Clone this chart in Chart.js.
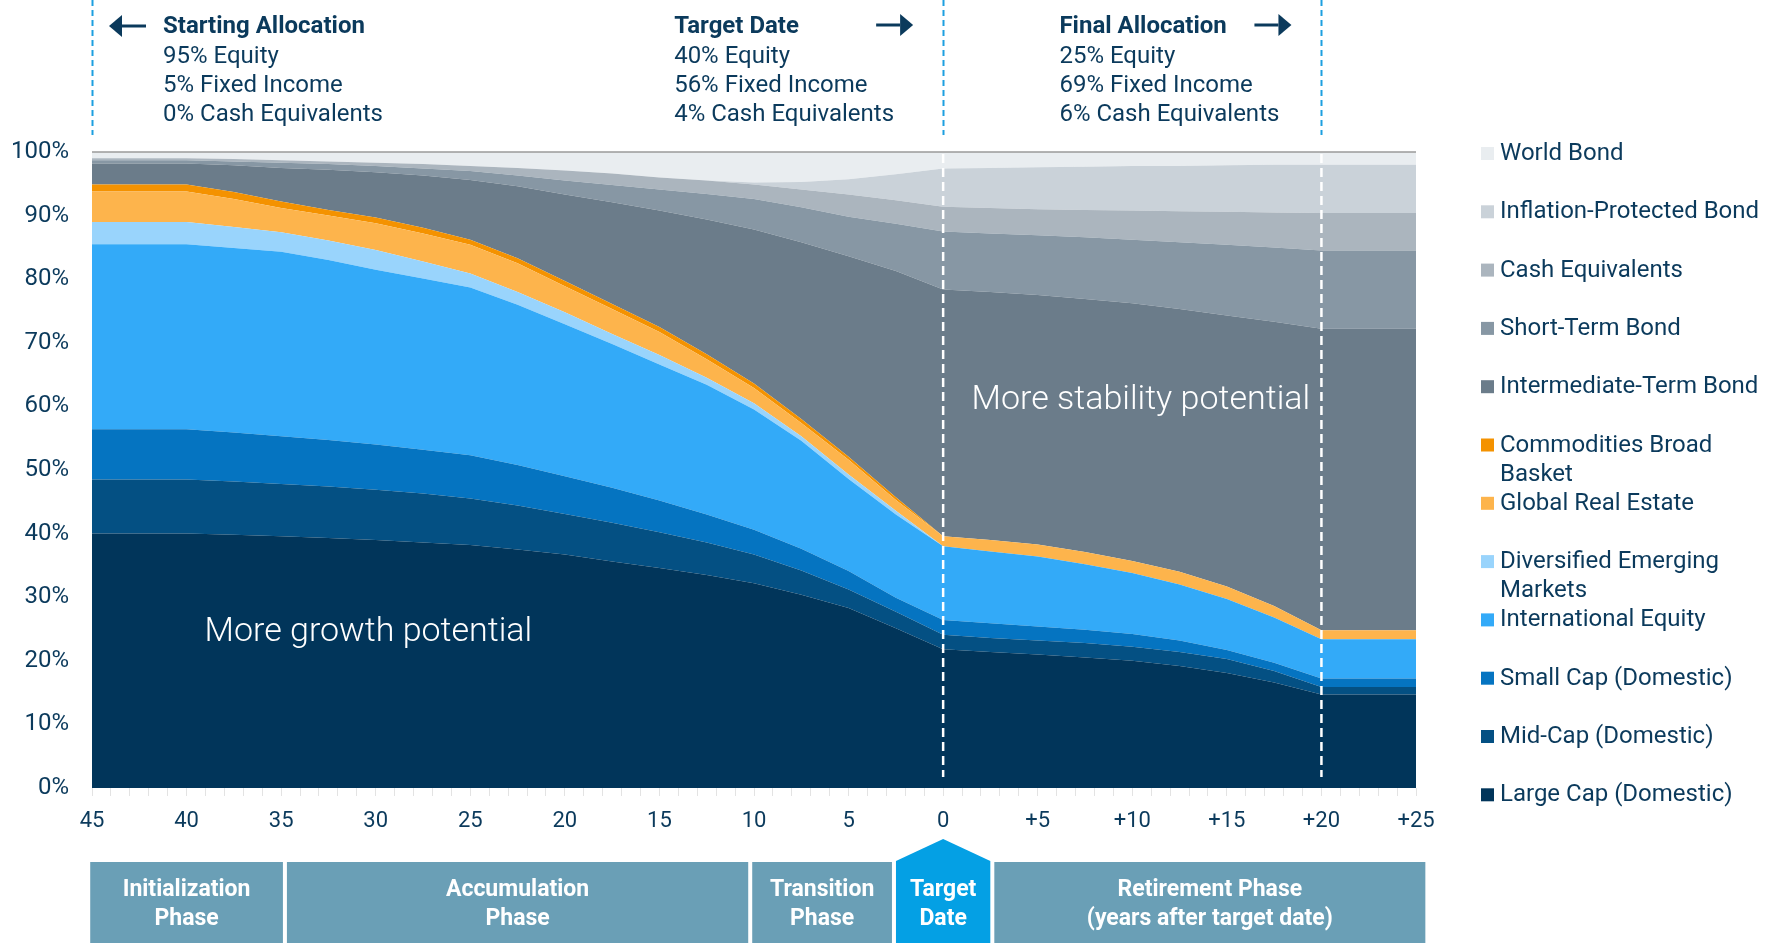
<!DOCTYPE html>
<html>
<head>
<meta charset="utf-8">
<script src="https://cdn.jsdelivr.net/npm/chart.js@4.4.1/dist/chart.umd.min.js"></script>
<style>
  html, body { margin: 0; padding: 0; background: #fff; }
  #wrap { position: relative; width: 1765px; height: 947px; }
</style>
</head>
<body>
<div id="wrap"><canvas id="glidePath"></canvas></div>
<script>
// years relative to the target date
const years = [-45, -40, -37.5, -35, -32.5, -30, -27.5, -25, -22.5, -20, -17.5, -15, -12.5, -10,
  -7.5, -5, -2.5, 0, 2.5, 5, 7.5, 10, 12.5, 15, 17.5, 20, 25];

// allocation of each fund, % of portfolio (stacked bottom -> top)
const largeCap     = [40.0, 40.0, 39.8, 39.6, 39.3, 39.0, 38.6, 38.2, 37.5, 36.7, 35.6, 34.6, 33.5, 32.2, 30.4, 28.3, 25.1, 21.8, 21.4, 21.0, 20.5, 20.0, 19.2, 18.1, 16.6, 14.7, 14.7];
const midCap       = [8.5, 8.5, 8.4, 8.2, 8.1, 7.9, 7.7, 7.3, 6.9, 6.4, 6.1, 5.6, 5.1, 4.5, 3.8, 2.9, 2.6, 2.3, 2.2, 2.2, 2.3, 2.2, 2.2, 2.2, 1.8, 1.2, 1.2];
const smallCap     = [7.9, 7.9, 7.7, 7.5, 7.3, 7.1, 6.9, 6.8, 6.4, 5.9, 5.5, 5.0, 4.4, 3.9, 3.4, 2.9, 2.2, 2.3, 2.3, 2.2, 2.1, 2.0, 1.8, 1.4, 1.3, 1.3, 1.3];
const intlEquity   = [29.1, 29.1, 29.0, 29.0, 28.3, 27.5, 26.9, 26.4, 25.2, 23.9, 22.6, 21.4, 20.4, 18.9, 17.0, 14.5, 13.1, 11.6, 11.3, 11.0, 10.3, 9.6, 8.8, 8.0, 7.1, 6.2, 6.2];
const emerging     = [3.5, 3.5, 3.3, 3.1, 3.1, 3.1, 2.7, 2.2, 2.0, 1.9, 1.6, 1.5, 1.1, 1.0, 0.7, 0.7, 0.6, 0, 0, 0, 0, 0, 0, 0, 0, 0, 0];
const realEstate   = [4.8, 4.8, 4.4, 3.8, 3.9, 4.2, 4.4, 4.5, 4.5, 4.1, 3.9, 3.6, 2.9, 2.4, 2.1, 2.3, 1.7, 1.6, 1.8, 1.9, 1.9, 1.9, 2.0, 2.0, 1.8, 1.4, 1.4];
const commodities  = [1.1, 1.1, 1.1, 1.0, 0.9, 0.9, 0.9, 0.8, 0.8, 0.8, 0.8, 0.8, 0.8, 0.7, 0.6, 0.5, 0.4, 0, 0, 0, 0, 0, 0, 0, 0, 0, 0];
const intermediate = [3.3, 3.3, 4.2, 5.3, 6.3, 7.1, 8.2, 9.4, 11.3, 13.6, 16.0, 18.3, 21.2, 24.2, 27.8, 31.5, 35.6, 38.8, 39.0, 39.2, 39.8, 40.5, 41.3, 42.6, 44.7, 47.4, 47.4];
const shortTerm    = [0.5, 0.5, 0.6, 0.8, 0.9, 1.0, 1.1, 1.4, 1.7, 2.2, 2.7, 3.3, 4.0, 4.8, 5.5, 6.2, 7.4, 9.1, 9.2, 9.4, 9.7, 10.0, 10.5, 11.1, 11.7, 12.3, 12.3];
const cashEquiv    = [0.3, 0.3, 0.4, 0.4, 0.4, 0.5, 0.7, 0.8, 1.2, 1.6, 1.8, 1.9, 2.1, 2.3, 2.8, 3.5, 3.7, 3.9, 4.0, 4.1, 4.3, 4.6, 4.9, 5.2, 5.5, 5.9, 5.9];
const inflationProt = [0, 0, 0, 0, 0, 0, 0, 0, 0, 0, 0, 0, 0, 0.3, 1.2, 2.4, 4.1, 6.0, 6.3, 6.6, 6.8, 7.0, 7.1, 7.3, 7.5, 7.6, 7.6];
const worldBond    = [1.0, 1.0, 1.1, 1.3, 1.5, 1.7, 1.9, 2.2, 2.5, 2.9, 3.4, 4.0, 4.5, 4.8, 4.7, 4.3, 3.5, 2.6, 2.5, 2.4, 2.3, 2.2, 2.2, 2.1, 2.0, 2.0, 2.0];

const seriesNames = [
  'Large Cap (Domestic)', 'Mid-Cap (Domestic)', 'Small Cap (Domestic)', 'International Equity',
  'Diversified Emerging\nMarkets', 'Global Real Estate', 'Commodities Broad\nBasket',
  'Intermediate-Term Bond', 'Short-Term Bond', 'Cash Equivalents',
  'Inflation-Protected Bond', 'World Bond'
];
const seriesValues = [largeCap, midCap, smallCap, intlEquity, emerging, realEstate, commodities,
  intermediate, shortTerm, cashEquiv, inflationProt, worldBond];
const seriesColors = ['#01355a', '#045083', '#0574c1', '#33aaf8', '#99d4fc', '#fdb44c', '#f49200',
  '#6b7c8a', '#8797a4', '#abb5be', '#cad2d9', '#e9edf0'];

const yTicks = [0, 10, 20, 30, 40, 50, 60, 70, 80, 90, 100];

// top call-outs
const callouts = [
  { at: -45, dx: 71, title: 'Starting Allocation', arrow: 'left', lines: ['95% Equity', '5% Fixed Income', '0% Cash Equivalents'] },
  { at: 0, dx: -269, title: 'Target Date', arrow: 'right', lines: ['40% Equity', '56% Fixed Income', '4% Cash Equivalents'] },
  { at: 20, dx: -262, title: 'Final Allocation', arrow: 'right', lines: ['25% Equity', '69% Fixed Income', '6% Cash Equivalents'] }
];

// phase strip under the axis (year ranges)
const phases = [
  { from: -45.2, to: -34.8, text: ['Initialization', 'Phase'] },
  { from: -34.8, to: -10.2, text: ['Accumulation', 'Phase'] },
  { from: -10.2, to: -2.6, text: ['Transition', 'Phase'] },
  { from: -2.6, to: 2.6, text: ['Target', 'Date'], highlight: true },
  { from: 2.6, to: 25.6, text: ['Retirement Phase', '(years after target date)'] }
];

const NAVY = '#0b3a5c';
const FONT = 'Roboto, "Open Sans", sans-serif';

Chart.defaults.font.family = FONT;
Chart.defaults.font.size = 22;
Chart.defaults.color = NAVY;

const datasets = seriesValues.map((vals, i) => ({
  label: seriesNames[i].replace('\n', ' '),
  legendText: seriesNames[i].split('\n'),
  data: years.map((yr, j) => ({ x: yr, y: vals[j] })),
  backgroundColor: seriesColors[i],
  borderColor: seriesColors[i],
  borderWidth: 0,
  pointRadius: 0,
  tension: 0,
  fill: i === 0 ? 'origin' : '-1'
}));

function arrow(ctx, x1, x2, y, dir) {
  ctx.save();
  ctx.fillStyle = NAVY;
  ctx.strokeStyle = NAVY;
  ctx.lineWidth = 3;
  const tip = dir === 'left' ? x1 : x2;
  const tail = dir === 'left' ? x2 : x1;
  const back = dir === 'left' ? tip + 13 : tip - 13;
  ctx.beginPath();
  ctx.moveTo(tail, y);
  ctx.lineTo(back, y);
  ctx.stroke();
  ctx.beginPath();
  ctx.moveTo(tip, y);
  ctx.lineTo(back, y - 11);
  ctx.lineTo(back, y + 11);
  ctx.closePath();
  ctx.fill();
  ctx.restore();
}

const extras = {
  id: 'extras',
  afterDatasetsDraw(chart) {
    const { ctx, chartArea: a, scales: { x, y } } = chart;
    ctx.save();
    // top frame line
    ctx.strokeStyle = '#9a9a9a';
    ctx.lineWidth = 1.5;
    ctx.beginPath();
    ctx.moveTo(a.left, y.getPixelForValue(100));
    ctx.lineTo(a.right, y.getPixelForValue(100));
    ctx.stroke();
    // white dashed markers
    ctx.strokeStyle = '#ffffff';
    ctx.lineWidth = 2.5;
    ctx.setLineDash([9, 5]);
    [0, 20].forEach(v => {
      const px = x.getPixelForValue(v);
      ctx.beginPath();
      ctx.moveTo(px, a.top + 2);
      ctx.lineTo(px, a.bottom - 11);
      ctx.stroke();
    });
    ctx.setLineDash([]);
    // area captions
    ctx.fillStyle = '#ffffff';
    ctx.font = '300 34px ' + FONT;
    ctx.textBaseline = 'middle';
    ctx.fillText('More growth potential', x.getPixelForValue(-39.05), y.getPixelForValue(24.5));
    ctx.fillText('More stability potential', x.getPixelForValue(1.5), y.getPixelForValue(61.0));
    ctx.restore();
  },
  afterDraw(chart) {
    const { ctx, chartArea: a, scales: { x } } = chart;
    ctx.save();
    // blue dashed guides above the chart
    ctx.strokeStyle = '#1d9fe0';
    ctx.lineWidth = 2;
    ctx.setLineDash([6, 4]);
    [-45, 0, 20].forEach(v => {
      const px = Math.round(x.getPixelForValue(v)) + 0.5;
      ctx.beginPath();
      ctx.moveTo(px, 0);
      ctx.lineTo(px, a.top - 17);
      ctx.stroke();
    });
    ctx.setLineDash([]);

    // call-out texts
    ctx.textBaseline = 'middle';
    ctx.textAlign = 'left';
    callouts.forEach(c => {
      const tx = x.getPixelForValue(c.at) + c.dx;
      ctx.fillStyle = NAVY;
      ctx.font = 'bold 24px ' + FONT;
      ctx.fillText(c.title, tx, 27);
      ctx.font = '24px ' + FONT;
      c.lines.forEach((t, i) => ctx.fillText(t, tx, 56.5 + i * 29.3));
      const lineEnd = x.getPixelForValue(c.at);
      if (c.arrow === 'left') arrow(ctx, lineEnd + 17, lineEnd + 54, 26, 'left');
      else arrow(ctx, lineEnd - 67, lineEnd - 30, 25, 'right');
    });

    // phase strip
    const boxTop = 862, boxBottom = 943;
    phases.forEach(p => {
      const l = x.getPixelForValue(p.from) + 2;
      const r = x.getPixelForValue(p.to) - 2;
      ctx.fillStyle = p.highlight ? '#04a0e4' : '#6a9fb6';
      ctx.beginPath();
      if (p.highlight) {
        const mid = (l + r) / 2;
        ctx.moveTo(l, boxBottom);
        ctx.lineTo(l, boxTop - 1);
        ctx.lineTo(mid, 839);
        ctx.lineTo(r, boxTop - 1);
        ctx.lineTo(r, boxBottom);
      } else {
        ctx.rect(l, boxTop, r - l, boxBottom - boxTop);
      }
      ctx.closePath();
      ctx.fill();
      ctx.fillStyle = '#ffffff';
      ctx.font = 'bold 23px ' + FONT;
      ctx.textAlign = 'center';
      p.text.forEach((t, i) => ctx.fillText(t, (l + r) / 2, 890 + i * 29));
    });

    // legend, top item = last dataset
    ctx.textAlign = 'left';
    ctx.font = '24px ' + FONT;
    const items = chart.data.datasets.slice().reverse();
    const step = 58.3;
    items.forEach((ds, i) => {
      const cy = a.top + 2 + i * step;
      ctx.fillStyle = ds.backgroundColor;
      ctx.fillRect(a.right + 65, cy - 7, 13, 13);
      ctx.fillStyle = NAVY;
      ds.legendText.forEach((t, k) => ctx.fillText(t, a.right + 84, cy + k * 29));
    });
    ctx.restore();
  }
};

new Chart(document.getElementById('glidePath'), {
  type: 'line',
  data: { datasets },
  options: {
    responsive: true,
    maintainAspectRatio: false,
    animation: false,
    layout: { padding: { top: 152, right: 349, bottom: 99, left: 0 } },
    plugins: {
      legend: { display: false },
      tooltip: { enabled: false },
      filler: { propagate: false }
    },
    scales: {
      x: {
        type: 'linear',
        min: -45,
        max: 25,
        afterFit: s => { s.height = 60; },
        border: { display: false },
        grid: { drawOnChartArea: false, drawTicks: true, tickLength: 8, color: '#e3e3e3' },
        ticks: {
          stepSize: 1,
          autoSkip: false,
          maxRotation: 0,
          maxTicksLimit: 100,
          padding: 12,
          color: NAVY,
          callback: v => v % 5 !== 0 ? '' : (v > 0 ? '+' + v : String(Math.abs(v)))
        }
      },
      y: {
        stacked: true,
        min: 0,
        max: 100,
        afterFit: s => { s.width = 92; },
        afterBuildTicks: s => { s.ticks = yTicks.map(v => ({ value: v })); },
        border: { display: false },
        grid: { display: false, drawTicks: false },
        ticks: { padding: 23, color: NAVY, font: { size: 24 }, callback: v => v + '%' }
      }
    }
  },
  plugins: [extras]
});
</script>
</body>
</html>
